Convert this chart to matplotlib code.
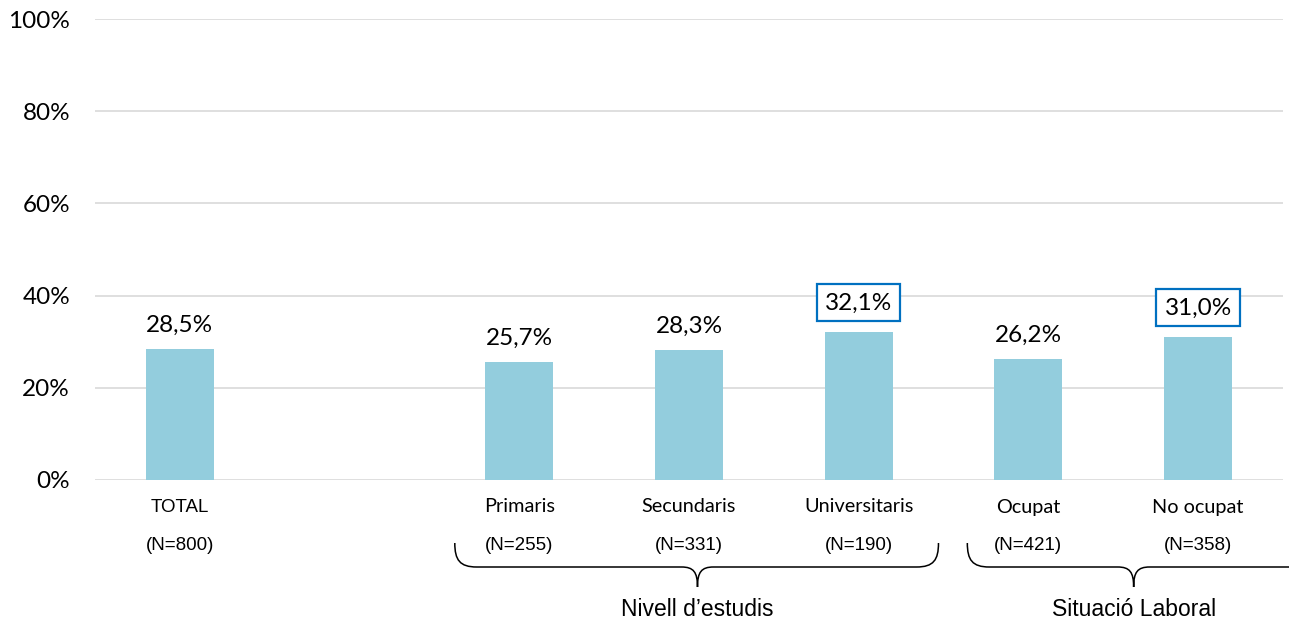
import matplotlib.pyplot as plt
import numpy as np
from matplotlib.path import Path
from matplotlib.patches import PathPatch

# dades
categories = ["TOTAL", "", "Primaris", "Secundaris", "Universitaris", "Ocupat", "No ocupat"]
values = [28.5, np.nan, 25.7, 28.3, 32.1, 26.2, 31.0]
n_labels = ["(N=800)", "", "(N=255)", "(N=331)", "(N=190)", "(N=421)", "(N=358)"]
boxed = [False, False, False, False, True, False, True]
groups = ["Nivell d\u2019estudis", "Situació Laboral"]
group_span = [(1.62, 3.05, 4.47), (4.64, 5.62, 6.75)]  # inici, punta, final (eix x)

bar_color = "#93CDDD"
grid_color = "#D9D9D9"
box_color = "#0070C0"

W, H = 1289, 620
fig = plt.figure(figsize=(W / 100, H / 100), dpi=100)
ax = fig.add_axes([95 / W, 1 - 480 / H, (1283 - 95) / W, (480 - 19) / H])

x = np.arange(len(categories))
ax.bar(x, values, width=0.4, color=bar_color, zorder=2)

ax.set_xlim(-0.5, len(categories) - 0.5)
ax.set_ylim(0, 100)
ax.set_yticks([0, 20, 40, 60, 80, 100])
ax.set_yticklabels(["0%", "20%", "40%", "60%", "80%", "100%"], family="Lato", fontsize=17.5)
ax.tick_params(axis="y", length=0, pad=18, colors="#000000")
ax.set_xticks([])
ax.yaxis.grid(True, color=grid_color, linewidth=1.2, zorder=0)
ax.set_axisbelow(True)
for s in ax.spines.values():
    s.set_visible(False)

# etiquetes de valor
for i, v in enumerate(values):
    if np.isnan(v):
        continue
    txt = f"{v:.1f}%".replace(".", ",")
    if boxed[i]:
        ax.annotate(txt, (i, v), xytext=(0, 21), textcoords="offset points",
                    ha="center", va="center", family="Lato", fontsize=17.5,
                    bbox=dict(boxstyle="square,pad=0.33", fc="white", ec=box_color, lw=1.6))
    else:
        ax.annotate(txt, (i, v), xytext=(0, 17), textcoords="offset points",
                    ha="center", va="center", family="Lato", fontsize=17.5)

# etiquetes de categoria i N
for i, c in enumerate(categories):
    if not c:
        continue
    fam = "Liberation Sans" if c == "TOTAL" else "Lato"
    fs = 13.5 if c == "TOTAL" else 14.3
    fig.text(ax.transData.transform((i, 0))[0] / W, 1 - 507 / H, c,
             ha="center", va="center", family=fam, fontsize=fs)
    fig.text(ax.transData.transform((i, 0))[0] / W, 1 - 546 / H, n_labels[i],
             ha="center", va="center", family="Liberation Sans", fontsize=13.5)


def brace(x0, xt, x1):
    p0 = ax.transData.transform((x0, 0))[0]
    pt = ax.transData.transform((xt, 0))[0]
    p1 = ax.transData.transform((x1, 0))[0]
    yt, yh, yp = 543, 567, 587
    pts = [(p0, yt), (p0, 560), (p0 + 5, yh), (p0 + 22, yh),
           (pt - 16, yh),
           (pt - 4, yh), (pt, 572), (pt, yp),
           (pt, 572), (pt + 4, yh), (pt + 16, yh),
           (p1 - 22, yh),
           (p1 - 5, yh), (p1, 560), (p1, yt)]
    codes = [Path.MOVETO, Path.CURVE4, Path.CURVE4, Path.CURVE4,
             Path.LINETO,
             Path.CURVE4, Path.CURVE4, Path.CURVE4,
             Path.CURVE4, Path.CURVE4, Path.CURVE4,
             Path.LINETO,
             Path.CURVE4, Path.CURVE4, Path.CURVE4]
    verts = [(px / W, 1 - py / H) for px, py in pts]
    fig.patches.append(PathPatch(Path(verts, codes), fc="none", ec="black", lw=1.1,
                                 transform=fig.transFigure, figure=fig))
    return pt


for g, (a, t, b) in zip(groups, group_span):
    pt = brace(a, t, b)
    fig.text(pt / W, 1 - 609 / H, g, ha="center", va="center",
             family="Liberation Sans", fontsize=16.5)

fig.savefig("out.png", dpi=100)
